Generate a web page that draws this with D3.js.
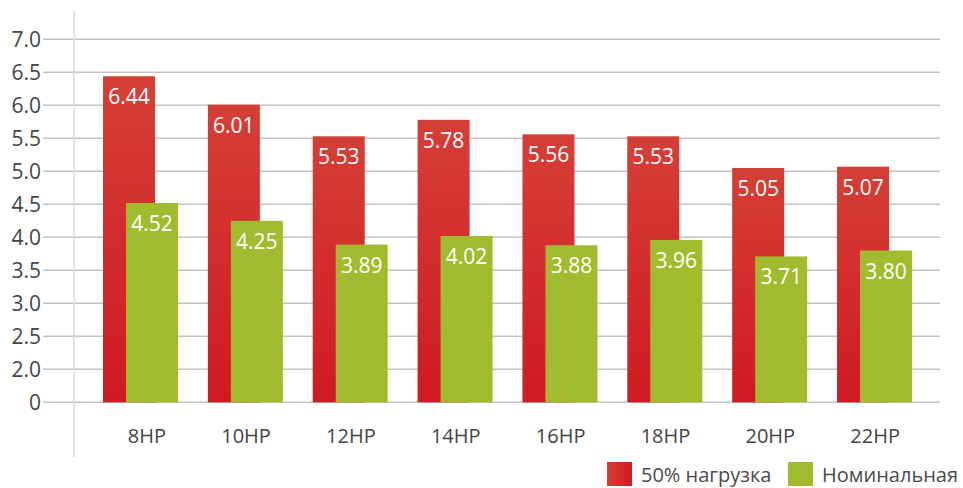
<!DOCTYPE html>
<html>
<head>
<meta charset="utf-8">
<script src="https://cdn.jsdelivr.net/npm/d3@7"></script>
<style>
  html, body { margin: 0; padding: 0; background: #fff; }
  svg { display: block; font-family: "Open Sans", "Noto Sans", sans-serif; }
</style>
</head>
<body>
<div id="graph"></div>
<script>
// categories and series
const categories = ["8HP", "10HP", "12HP", "14HP", "16HP", "18HP", "20HP", "22HP"];
const load50 = [6.44, 6.01, 5.53, 5.78, 5.56, 5.53, 5.05, 5.07];
const nominal = [4.52, 4.25, 3.89, 4.02, 3.88, 3.96, 3.71, 3.80];
const seriesNames = ["50% нагрузка", "Номинальная"];

// broken axis: the "0" tick sits one step below 2.0
const tickValues = [1.5, 2.0, 2.5, 3.0, 3.5, 4.0, 4.5, 5.0, 5.5, 6.0, 6.5, 7.0];
const tickLabels = ["0", "2.0", "2.5", "3.0", "3.5", "4.0", "4.5", "5.0", "5.5", "6.0", "6.5", "7.0"];

let width = 963, height = 488;

let svg = d3.select("#graph")
  .append("svg")
  .attr("width", width)
  .attr("height", height);

let defs = svg.append("defs");
let gradV = defs.append("linearGradient")
  .attr("id", "redV")
  .attr("x1", 0).attr("y1", 0).attr("x2", 0).attr("y2", 1);
gradV.append("stop").attr("offset", "0%").attr("stop-color", "#d53f36");
gradV.append("stop").attr("offset", "100%").attr("stop-color", "#d01a22");

let gradH = defs.append("linearGradient")
  .attr("id", "redH")
  .attr("x1", 0).attr("y1", 0).attr("x2", 1).attr("y2", 0);
gradH.append("stop").attr("offset", "0%").attr("stop-color", "#d53f36");
gradH.append("stop").attr("offset", "100%").attr("stop-color", "#d01a22");

let y = d3.scaleLinear()
  .domain([1.5, 7.0])
  .range([402.3, 39.3]);

let x = d3.scaleBand()
  .domain(categories)
  .range([103, 103 + 104.86 * 8])
  .paddingInner(0);

let barW = 52, offset = 23;

// gridlines
svg.append("g")
  .selectAll("line")
  .data(tickValues)
  .enter()
  .append("line")
  .attr("x1", 43)
  .attr("x2", 940)
  .attr("y1", function (d) { return y(d); })
  .attr("y2", function (d) { return y(d); })
  .attr("stroke", "#c2c2c2")
  .attr("stroke-width", 1.4);

// vertical axis line
svg.append("line")
  .attr("x1", 74).attr("x2", 74)
  .attr("y1", 11).attr("y2", 457)
  .attr("stroke", "#d8d8d8")
  .attr("stroke-width", 1.5);

// y tick labels
svg.append("g")
  .selectAll("text")
  .data(tickValues)
  .enter()
  .append("text")
  .attr("x", 41)
  .attr("y", function (d) { return y(d); })
  .attr("dy", "0.36em")
  .attr("text-anchor", "end")
  .attr("font-size", 21)
  .attr("fill", "#454545")
  .text(function (d, i) { return tickLabels[i]; });

// red bars
svg.append("g")
  .selectAll("rect")
  .data(load50)
  .enter()
  .append("rect")
  .attr("x", function (d, i) { return x(categories[i]); })
  .attr("y", function (d) { return y(d); })
  .attr("width", barW)
  .attr("height", function (d) { return y(1.5) - y(d); })
  .attr("fill", "url(#redV)");

// green bars
svg.append("g")
  .selectAll("rect")
  .data(nominal)
  .enter()
  .append("rect")
  .attr("x", function (d, i) { return x(categories[i]) + offset; })
  .attr("y", function (d) { return y(d); })
  .attr("width", barW)
  .attr("height", function (d) { return y(1.5) - y(d); })
  .attr("fill", "#a0bc2e");

// value labels
svg.append("g")
  .selectAll("text")
  .data(load50)
  .enter()
  .append("text")
  .attr("x", function (d, i) { return x(categories[i]) + barW / 2; })
  .attr("y", function (d) { return y(d) + 28; })
  .attr("text-anchor", "middle")
  .attr("font-size", 21)
  .attr("fill", "#fff")
  .text(function (d) { return d.toFixed(2); });

svg.append("g")
  .selectAll("text")
  .data(nominal)
  .enter()
  .append("text")
  .attr("x", function (d, i) { return x(categories[i]) + offset + barW / 2; })
  .attr("y", function (d) { return y(d) + 28; })
  .attr("text-anchor", "middle")
  .attr("font-size", 21)
  .attr("fill", "#fff")
  .text(function (d) { return d.toFixed(2); });

// category labels
svg.append("g")
  .selectAll("text")
  .data(categories)
  .enter()
  .append("text")
  .attr("x", function (d) { return x(d) + 63; })
  .attr("y", 443)
  .attr("text-anchor", "end")
  .attr("font-size", 20)
  .attr("fill", "#454545")
  .text(function (d) { return d; });

// legend
let legend = svg.append("g");
let legendX = [607, 788];
let legendFill = ["url(#redH)", "#a0bc2e"];
seriesNames.forEach(function (name, i) {
  legend.append("rect")
    .attr("x", legendX[i])
    .attr("y", 462)
    .attr("width", 25)
    .attr("height", 24)
    .attr("fill", legendFill[i]);
  legend.append("text")
    .attr("x", legendX[i] + 34)
    .attr("y", 482)
    .attr("font-size", 20)
    .attr("fill", "#4a4a4a")
    .text(name);
});
</script>
</body>
</html>
